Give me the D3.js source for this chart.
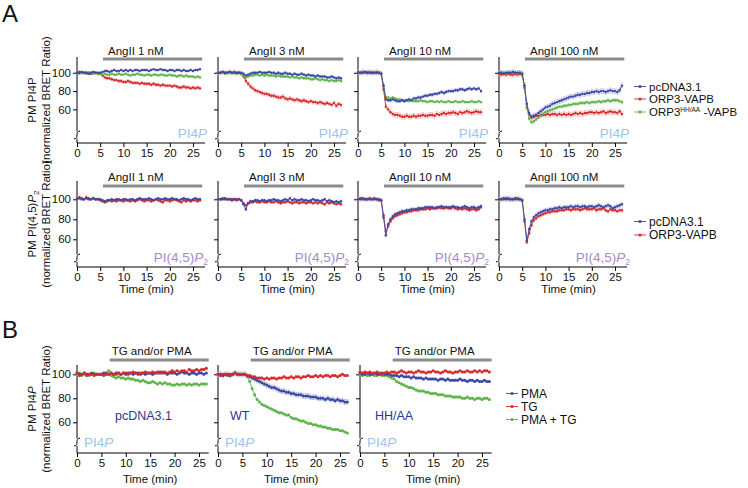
<!DOCTYPE html>
<html>
<head>
<meta charset="utf-8">
<script src="https://cdn.jsdelivr.net/npm/d3@7"></script>
<style>
  body { margin: 0; background: #fff; }
  svg { display: block; }
</style>
</head>
<body>
<script>
// ---- data (BRET ratio, % of baseline) ----

// sampling times (min)
var times = [0,0.5,1,1.5,2,2.5,3,3.5,4,4.5,5,5.5,6,6.5,7,7.5,8,8.5,9,9.5,
  10,10.5,11,11.5,12,12.5,13,13.5,14,14.5,15,15.5,16,16.5,17,17.5,18,18.5,19,19.5,
  20,20.5,21,21.5,22,22.5,23,23.5,24,24.5,25,25.5,26,26.5];

var xTicks = [0, 5, 10, 15, 20, 25];
var yTicks = [60, 80, 100];

var angIIDoses = ["AngII 1 nM", "AngII 3 nM", "AngII 10 nM", "AngII 100 nM"];
var bTitle = "TG and/or PMA";
var bConstructs = ["pcDNA3.1", "WT", "HH/AA"];

// Panel A, PM PI4P, one array per AngII dose
var pi4pPcDNA = [
  [100,100,101,100,100,99,100,101,100,100, 100,101,102,102,101,102,103,102,102,103,
   102,103,102,103,102,103,103,102,103,103, 103,102,103,104,103,103,104,103,103,102,
   103,103,102,103,103,102,103,102,102,103, 102,103,103,104],
  [100,100,101,100,100,101,100,100,100,100, 100,99,97,98,99,100,100,100,101,100,
   100,100,101,100,100,99,100,99,99,100, 99,99,98,99,98,98,99,98,97,98,
   97,97,96,97,96,96,96,95,95,96, 95,94,95,94],
  [100,100,100,101,100,100,100,100,100,100, 99,86,71,70,70,71,70,69,69,70,
   69,70,71,70,72,72,73,73,74,75, 75,76,76,77,77,78,79,78,79,80,
   80,80,81,81,82,82,81,82,83,82, 83,82,83,80],
  [100,100,99,100,100,100,101,100,100,100, 99,86,66,56,52,53,54,56,58,60,
   62,63,64,66,67,68,69,70,71,72, 73,74,74,75,76,76,77,77,78,78,
   79,79,80,79,80,80,79,80,81,80, 80,79,81,86]
];
var pi4pORP3 = [
  [100,101,100,100,100,100,99,100,100,99, 99,97,95,94,94,93,92,92,91,91,
   90,90,91,90,89,89,89,88,89,88, 88,88,87,88,87,87,86,87,86,86,
   86,85,86,85,84,84,85,84,84,83, 84,83,84,83],
  [100,100,101,100,100,101,100,101,100,100, 99,96,91,88,85,83,81,80,79,78,
   77,77,76,75,75,74,73,73,74,72, 71,72,71,70,71,70,69,70,69,68,
   69,68,68,67,68,67,66,67,66,65, 67,64,66,65],
  [101,100,101,100,100,101,100,100,101,100, 99,82,63,60,57,55,54,54,53,52,
   52,53,52,52,53,52,53,53,54,53, 53,54,54,53,55,54,55,56,55,56,
   56,57,56,55,57,56,57,58,57,56, 57,58,57,57],
  [99,98,99,98,99,98,98,99,98,99, 98,84,62,54,51,52,53,53,54,54,
   54,55,54,55,55,54,55,54,55,54, 55,54,55,56,55,56,55,56,56,57,
   57,56,57,56,57,58,56,57,58,57, 57,56,58,55]
];
var pi4pHHAA = [
  [100,99,100,100,99,100,100,99,100,99, 99,98,99,98,98,99,98,98,99,98,
   98,99,98,97,98,98,99,98,98,97, 98,98,97,98,98,97,98,98,97,97,
   98,97,97,96,97,97,96,97,96,96, 96,95,96,95],
  [100,100,100,99,100,100,100,100,99,100, 99,97,95,96,97,97,98,98,97,98,
   97,98,97,97,97,96,97,96,96,96, 96,95,96,95,95,94,95,94,94,94,
   93,93,94,93,92,93,92,92,91,92, 91,91,92,91],
  [100,100,100,100,101,100,100,100,100,100, 99,86,73,73,72,73,72,71,71,70,
   70,70,69,70,69,69,69,70,69,69, 68,69,69,68,69,68,69,68,68,69,
   68,68,69,68,68,69,68,68,68,69, 68,68,69,68],
  [100,100,100,99,100,100,100,100,99,100, 99,84,62,50,46,47,49,51,53,55,
   57,58,59,60,61,62,63,63,64,64, 65,65,66,66,66,67,67,67,68,67,
   68,68,68,69,68,69,69,70,69,70, 70,70,69,68]
];
var pi4pSemPcDNA = [0.8, 1, 1.5, 2.5];
var pi4pSemORP3 = [1.5, 2, 2.5, 2.5];
var pi4pSemHHAA = [0.8, 1.2, 1, 1.5];

// Panel A, PM PI(4,5)P2
var pip2PcDNA = [
  [100,101,100,100,101,100,100,101,100,100, 100,99,98,99,99,100,99,100,100,99,
   100,100,99,100,100,99,100,101,100,100, 100,101,100,99,100,101,100,100,101,100,
   100,101,100,100,99,100,101,100,100,99, 100,101,100,100],
  [100,100,100,101,100,100,99,100,100,100, 99,95,90,96,98,98,99,99,98,99,
   99,98,99,99,100,99,99,98,99,100, 99,101,99,100,99,99,100,99,99,98,
   99,100,99,99,98,99,100,98,99,98, 97,98,97,98],
  [100,100,101,100,100,100,100,101,100,100, 99,82,64,75,80,83,85,86,87,88,
   88,89,89,90,90,90,91,91,91,92, 92,92,92,91,92,92,93,92,92,92,
   92,93,92,92,91,92,93,92,91,92, 92,91,92,93],
  [100,100,101,100,101,100,100,101,100,100, 99,80,59,70,78,82,84,86,87,88,
   89,89,90,90,91,91,92,91,92,92, 92,93,92,93,93,92,93,93,92,93,
   93,92,93,94,93,92,93,94,93,91, 92,93,94,95]
];
var pip2ORP3 = [
  [101,102,101,100,102,101,100,101,100,100, 99,98,97,98,99,98,99,98,99,99,
   98,99,99,98,99,98,99,100,99,98, 99,99,98,99,100,99,98,97,99,99,
   98,99,100,99,98,97,99,98,99,98, 99,99,98,99],
  [100,100,101,100,100,100,100,100,99,100, 99,96,94,96,97,97,98,97,97,98,
   97,97,98,97,97,98,97,96,97,97, 98,97,96,97,97,96,97,97,96,97,
   97,96,97,96,97,96,95,97,96,97, 96,95,96,95],
  [100,101,100,100,100,101,100,100,100,99, 99,84,68,73,78,81,83,84,85,86,
   87,87,88,88,89,89,89,90,90,90, 91,90,91,91,91,92,91,91,92,91,
   91,92,91,90,91,90,91,90,89,90, 90,89,90,92],
  [100,100,100,101,100,100,100,100,101,100, 99,78,57,66,74,79,81,83,84,85,
   86,87,87,88,88,88,89,89,89,90, 90,89,90,90,90,89,90,91,90,90,
   90,91,89,90,90,91,89,88,90,89, 89,88,89,89]
];
var pip2SemPcDNA = [1, 1.2, 1.5, 2];
var pip2SemORP3 = [1.2, 1.2, 1.5, 1.5];

// Panel B, PM PI4P, one array per construct
var bPMA = [
  [101,100,100,101,100,100,101,100,100,100, 100,101,100,100,101,100,101,101,100,101,
   100,101,101,100,101,101,100,101,100,101, 101,100,101,101,102,101,101,100,101,101,
   101,100,101,102,101,101,100,101,101,100, 101,101,100,101],
  [100,100,99,100,100,99,100,101,100,100, 100,100,99,98,97,96,95,94,93,92,
   91,90,89,89,88,87,86,86,85,85, 84,84,83,83,83,82,82,82,81,81,
   81,80,80,80,79,80,79,79,78,79, 78,78,77,77],
  [101,100,100,101,100,100,101,100,100,101, 100,100,100,99,99,99,98,99,98,98,
   98,97,98,97,97,97,96,97,96,96, 96,96,95,96,96,95,96,95,95,95,
   95,96,95,95,94,95,95,94,95,94, 94,95,94,94]
];
var bTG = [
  [101,99,100,101,99,100,100,99,100,100, 100,99,101,100,101,100,100,101,100,101,
   101,100,101,102,101,100,101,101,102,101, 101,102,101,102,101,102,102,101,102,103,
   102,103,102,103,103,102,104,103,103,104, 103,104,104,105],
  [100,99,100,100,99,100,100,101,100,100, 100,100,99,99,98,98,97,97,97,96,
   97,96,97,97,96,97,97,98,97,97, 98,97,98,98,97,98,98,99,98,98,
   99,98,99,98,99,99,98,99,99,98, 99,100,99,99],
  [102,101,102,101,102,101,101,102,101,100, 101,102,101,102,102,101,102,103,102,101,
   102,102,101,102,103,102,102,101,102,102, 103,102,102,101,102,103,102,102,101,102,
   102,103,102,102,103,102,102,103,102,103, 102,103,103,102]
];
var bPMATG = [
  [100,101,99,100,100,99,100,101,100,100, 100,100,101,103,99,98,97,98,97,97,
   96,97,96,96,95,95,94,95,94,93, 93,94,93,92,93,92,93,92,92,91,
   91,92,91,92,92,91,92,91,92,92, 91,92,92,92],
  [100,100,99,100,100,99,100,101,100,100, 100,100,98,94,88,83,79,77,75,74,
   73,72,71,70,69,68,68,67,66,66, 64,63,63,62,61,61,60,59,59,58,
   58,57,57,56,56,55,55,54,54,54, 53,53,52,51],
  [99,99,100,99,99,100,99,99,100,99, 99,99,98,97,96,94,93,92,91,90,
   89,89,88,87,86,86,86,85,85,84, 84,84,83,83,83,82,82,82,81,81,
   81,81,80,80,81,80,80,79,80,80, 79,80,80,79]
];
var bSemPMA = [0.8, 2, 0.8];
var bSemTG = [0.8, 0.8, 0.8];
var bSemPMATG = [0.8, 0.8, 0.8];

// ---- look ----
var FONT = "'Liberation Sans', Arial, sans-serif";
var BLUE = "#3b48a3", BLUE_L = "#a3acde";
var RED = "#d82a2c", RED_L = "#f2a3a3";
var GREEN = "#5db54a", GREEN_L = "#addd9f";

// row layouts (pixels)
var rowA1 = {top: 57, breakY: 135, axisY: 143, y100: 72.8, y60: 109.4, pxPerMin: 4.64, xMax: 27.6,
             barY: 59, bar: [5.6, 27], titleY: 55, titleDx: 5, r: 1.2};
var rowA2 = {top: 181, breakY: 258, axisY: 267, y100: 199.3, y60: 239.3, pxPerMin: 4.64, xMax: 27.6,
             barY: 186, bar: [5.6, 27], titleY: 181, titleDx: 5, r: 1.2, timeY: 293};
var rowB = {top: 365, breakY: 442, axisY: 453, y100: 374.3, y60: 422.3, pxPerMin: 4.88, xMax: 27,
            barY: 360, bar: [6.7, 27], titleY: 355, titleDx: 2, r: 1.5, timeY: 483};
var originsA = [77, 218, 358, 499];
var originsB = [77, 218, 360];

var svg = d3.select("body").append("svg")
    .attr("width", 748)
    .attr("height", 488)
    .style("font-family", FONT);

function drawPanel(row, ox, series, title, showYLabels) {
  var x = d3.scaleLinear().domain([0, row.xMax]).range([ox, ox + row.pxPerMin * row.xMax]);
  var y = d3.scaleLinear().domain([60, 100]).range([row.y60, row.y100]);
  var g = svg.append("g");

  // stimulus bar
  g.append("line")
      .attr("x1", x(row.bar[0])).attr("x2", x(row.bar[1]))
      .attr("y1", row.barY).attr("y2", row.barY)
      .attr("stroke", "#8c8c8c").attr("stroke-width", 3.2);
  g.append("text")
      .attr("x", x(row.bar[0]) + row.titleDx).attr("y", row.titleY)
      .attr("font-size", 11.5).attr("fill", "#111")
      .text(title);

  // x axis
  var xa = g.append("g")
      .attr("transform", "translate(0," + row.axisY + ")")
      .call(d3.axisBottom(x).tickValues(xTicks).tickSize(4).tickPadding(2));
  xa.select(".domain").remove();
  xa.append("line").attr("x1", ox).attr("x2", x(row.xMax)).attr("stroke", "#000");

  // y axis with break
  var ya = g.append("g")
      .attr("transform", "translate(" + ox + ",0)")
      .call(d3.axisLeft(y).tickValues(yTicks).tickSize(4).tickPadding(2));
  ya.select(".domain").remove();
  if (!showYLabels) ya.selectAll(".tick text").remove();
  ya.append("line").attr("y1", row.top).attr("y2", row.breakY - 3.5).attr("stroke", "#000");
  ya.append("line").attr("y1", row.breakY + 3.5).attr("y2", row.axisY).attr("stroke", "#000");
  ya.append("path")
      .attr("d", "M-3," + (row.breakY + 4) + " C3," + (row.breakY + 3) + " -3," + (row.breakY - 3) + " 3," + (row.breakY - 4))
      .attr("fill", "none").attr("stroke", "#000");

  [xa, ya].forEach(function(a) {
    a.attr("font-family", null).attr("font-size", null);
    a.selectAll("text").attr("font-size", 11.5).attr("fill", "#111");
    a.selectAll(".tick line").attr("stroke", "#000");
  });

  // error bars first, then traces
  series.forEach(function(s) {
    var pts = times.map(function(t, i) { return [t, s.values[i]]; });
    g.append("g").selectAll("path").data(pts).join("path")
        .attr("d", function(d) {
          var px = x(d[0]), lo = y(d[1] - s.sem), hi = y(d[1] + s.sem);
          return "M" + px + "," + lo + "V" + hi + "M" + (px - 1.2) + "," + lo + "h2.4M" + (px - 1.2) + "," + hi + "h2.4";
        })
        .attr("stroke", s.light).attr("stroke-width", 0.6).attr("fill", "none");
  });
  series.forEach(function(s) {
    var pts = times.map(function(t, i) { return [t, s.values[i]]; });
    g.append("path").datum(pts)
        .attr("d", d3.line().x(function(d) { return x(d[0]); }).y(function(d) { return y(d[1]); }))
        .attr("fill", "none").attr("stroke", s.color).attr("stroke-width", 0.9);
    g.append("g").selectAll("circle").data(pts).join("circle")
        .attr("cx", function(d) { return x(d[0]); })
        .attr("cy", function(d) { return y(d[1]); })
        .attr("r", row.r)
        .attr("fill", s.color);
  });

  if (row.timeY) {
    g.append("text")
        .attr("x", x(15)).attr("y", row.timeY)
        .attr("text-anchor", "middle").attr("font-size", 11.5).attr("fill", "#111")
        .text("Time (min)");
  }
  return {x: x, y: y, g: g};
}

function yLabel(cy, line1, italicTail, sub) {
  var t = svg.append("text")
      .attr("transform", "translate(36," + cy + ") rotate(-90)")
      .attr("text-anchor", "middle").attr("font-size", 11.5).attr("fill", "#111");
  t.append("tspan").text(line1);
  if (italicTail) t.append("tspan").attr("font-style", "italic").text(italicTail);
  if (sub) t.append("tspan").attr("font-size", 8).attr("dy", 3).text(sub);
  svg.append("text")
      .attr("transform", "translate(50," + cy + ") rotate(-90)")
      .attr("text-anchor", "middle").attr("font-size", 11.5).attr("fill", "#111")
      .text("(normalized BRET Ratio)");
}

function legend(x0, ys, items, size) {
  items.forEach(function(it, i) {
    var g = svg.append("g");
    g.append("line").attr("x1", x0 - 6).attr("x2", x0 + 6).attr("y1", ys[i]).attr("y2", ys[i])
        .attr("stroke", it.color).attr("stroke-width", 0.9);
    g.append("circle").attr("cx", x0).attr("cy", ys[i]).attr("r", 1.6).attr("fill", it.color);
    var t = g.append("text").attr("x", x0 + 9).attr("y", ys[i] + size * 0.36)
        .attr("font-size", size).attr("fill", "#111");
    t.append("tspan").text(it.label);
    if (it.sup) {
      t.append("tspan").attr("font-size", 6.5).attr("dy", -4).text(it.sup);
      t.append("tspan").attr("dy", 4).text(it.after);
    }
  });
}

// panel letters
svg.append("text").attr("x", 2).attr("y", 22).attr("font-size", 24).attr("fill", "#111").text("A");
svg.append("text").attr("x", 2).attr("y", 338).attr("font-size", 24).attr("fill", "#111").text("B");

// ---- Panel A, PI4P ----
angIIDoses.forEach(function(dose, k) {
  var p = drawPanel(rowA1, originsA[k], [
    {values: pi4pORP3[k], sem: pi4pSemORP3[k], color: RED, light: RED_L},
    {values: pi4pHHAA[k], sem: pi4pSemHHAA[k], color: GREEN, light: GREEN_L},
    {values: pi4pPcDNA[k], sem: pi4pSemPcDNA[k], color: BLUE, light: BLUE_L}
  ], dose, k === 0);
  var t = p.g.append("text").attr("x", originsA[k] + 130).attr("y", 137.5)
      .attr("text-anchor", "end").attr("font-size", 13.5).attr("fill", "#9dc4ea");
  t.append("tspan").text("PI4");
  t.append("tspan").attr("font-style", "italic").text("P");
});
yLabel(100, "PM PI4P");
legend(640, [86.5, 99, 112], [
  {label: "pcDNA3.1", color: BLUE},
  {label: "ORP3-VAPB", color: RED},
  {label: "ORP3", sup: "HH/AA", after: " -VAPB", color: GREEN}
], 11.5);

// ---- Panel A, PI(4,5)P2 ----
angIIDoses.forEach(function(dose, k) {
  var p = drawPanel(rowA2, originsA[k], [
    {values: pip2ORP3[k], sem: pip2SemORP3[k], color: RED, light: RED_L},
    {values: pip2PcDNA[k], sem: pip2SemPcDNA[k], color: BLUE, light: BLUE_L}
  ], dose, k === 0);
  var t = p.g.append("text").attr("x", originsA[k] + 131).attr("y", 262)
      .attr("text-anchor", "end").attr("font-size", 13.5).attr("fill", "#a68bc9");
  t.append("tspan").text("PI(4,5)");
  t.append("tspan").attr("font-style", "italic").text("P");
  t.append("tspan").attr("font-size", 8.5).attr("dy", 3).text("2");
});
yLabel(224, "PM PI(4,5)", "P", "2");
legend(640, [221.5, 235], [
  {label: "pcDNA3.1", color: BLUE},
  {label: "ORP3-VAPB", color: RED}
], 12);

// ---- Panel B ----
var bLabelDx = [38, 12, 15];
bConstructs.forEach(function(name, k) {
  var ox = originsB[k];
  var p = drawPanel(rowB, ox, [
    {values: bPMATG[k], sem: bSemPMATG[k], color: GREEN, light: GREEN_L},
    {values: bPMA[k], sem: bSemPMA[k], color: BLUE, light: BLUE_L},
    {values: bTG[k], sem: bSemTG[k], color: RED, light: RED_L}
  ], bTitle, k === 0);
  p.g.append("text").attr("x", ox + bLabelDx[k]).attr("y", 420)
      .attr("font-size", 12.5).attr("fill", "#2b3990").text(name);
  var t = p.g.append("text").attr("x", ox + 7).attr("y", 447)
      .attr("font-size", 13.5).attr("fill", "#9dc4ea");
  t.append("tspan").text("PI4");
  t.append("tspan").attr("font-style", "italic").text("P");
});
yLabel(409, "PM PI4", "P");
legend(512, [393.5, 406.5, 419.5], [
  {label: "PMA", color: BLUE},
  {label: "TG", color: RED},
  {label: "PMA + TG", color: GREEN}
], 12);
</script>
</body>
</html>
